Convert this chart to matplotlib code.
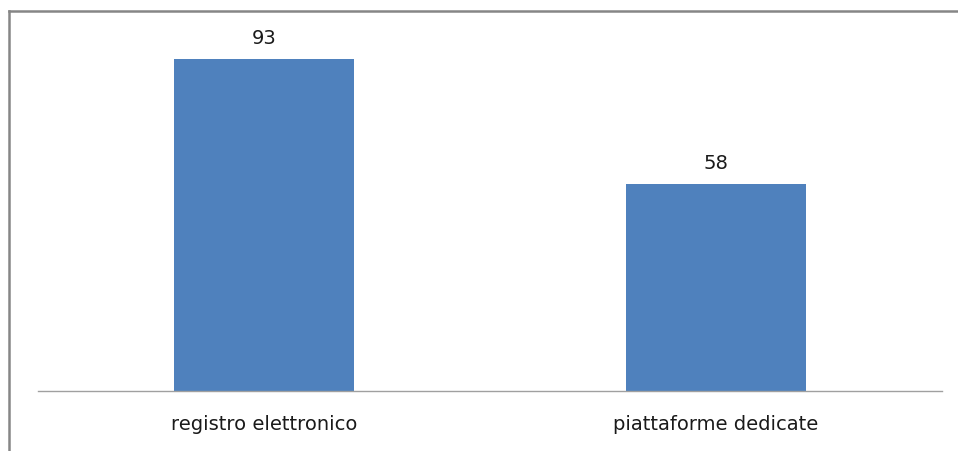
import matplotlib.pyplot as plt
from matplotlib.lines import Line2D

# === Data ===
categories = ['registro elettronico', 'piattaforme dedicate']
values = [93, 58]

W, H = 958, 451
fig = plt.figure(figsize=(W / 100, H / 100), dpi=100)
plt.rcParams['font.family'] = ['DejaVu Sans']

# plot area in pixel coords
left, right, bottom, top = 38, 942, 391, 34
ax = fig.add_axes([left / W, (H - bottom) / H, (right - left) / W, (bottom - top) / H])

x = range(len(categories))
bars = ax.bar(x, values, width=0.4, color='#4f81bd')
ax.set_xlim(-0.5, 1.5)
ax.set_ylim(0, 100)

for b, v in zip(bars, values):
    ax.annotate(str(v), (b.get_x() + b.get_width() / 2, v), xytext=(0, 15),
                textcoords='offset points', ha='center', va='center', fontsize=14, color='#1a1a1a')

ax.set_xticks(list(x))
ax.set_xticklabels(categories, fontsize=14, color='#1a1a1a')
ax.tick_params(axis='x', length=0, pad=17)
ax.set_yticks([])
for s in ['top', 'right', 'left']:
    ax.spines[s].set_visible(False)
ax.spines['bottom'].set_color('#a0a0a0')
ax.spines['bottom'].set_linewidth(1)

# outer chart border (only top and left visible)
fig.add_artist(Line2D([9 / W, 1], [1 - 10.5 / H, 1 - 10.5 / H], color='#868686', lw=1.8, transform=fig.transFigure))
fig.add_artist(Line2D([9 / W, 9 / W], [0, 1 - 10.5 / H], color='#868686', lw=1.8, transform=fig.transFigure))

plt.savefig('out.png', dpi=100)
